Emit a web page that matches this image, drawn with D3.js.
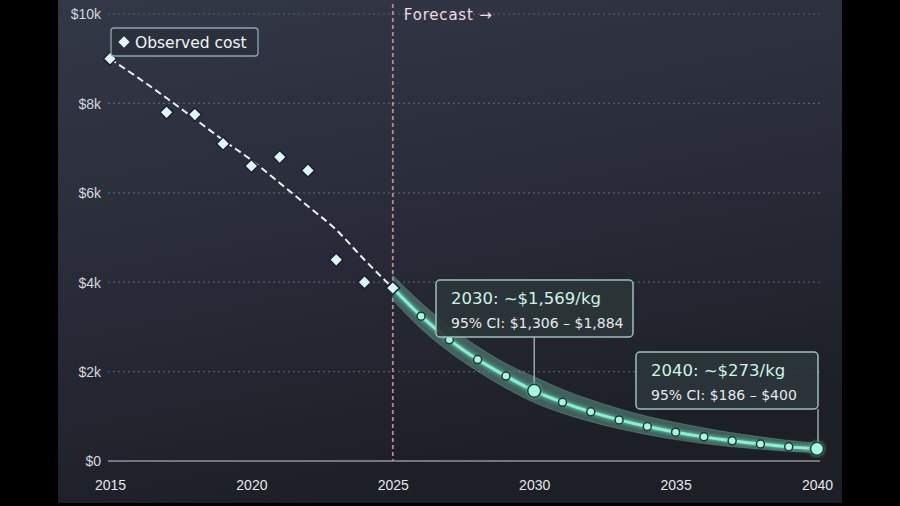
<!DOCTYPE html>
<html><head><meta charset="utf-8">
<script src="https://cdn.jsdelivr.net/npm/d3@7/dist/d3.min.js"></script>
<style>
html,body{margin:0;padding:0;background:#000;}
svg{display:block;font-family:"DejaVu Sans",sans-serif;}
</style></head>
<body>
<svg id="c" width="900" height="506"></svg>
<script>
// ---- data ----
const obsYears = [2015, 2017, 2018, 2019, 2020, 2021, 2022, 2023, 2024, 2025];
const obsCost  = [9000, 7800, 7750, 7100, 6600, 6800, 6500, 4500, 4000, 3870];
const trendYears = [2015,2016,2017,2018,2019,2020,2021,2022,2023,2024,2025];
const trendCost  = [9000,8570,8120,7650,7180,6730,6220,5700,5170,4500,3870];
const fcYears = [2025,2026,2027,2028,2029,2030,2031,2032,2033,2034,2035,2036,2037,2038,2039,2040];
const fcCost  = [3870,3240,2710,2270,1900,1569,1313,1099,920,770,645,540,452,378,316,273];
const fcLow   = [3600,2960,2440,2010,1630,1306,1070,880,720,590,480,390,320,265,220,186];
const fcHigh  = [4150,3540,3010,2560,2180,1884,1600,1370,1170,1000,860,740,630,540,460,400];
const xTicks = [2015, 2020, 2025, 2030, 2035, 2040];
const yTicks = [0, 2000, 4000, 6000, 8000, 10000];
const yTickLabels = ["$0", "$2k", "$4k", "$6k", "$8k", "$10k"];
const callouts = [
  {year: 2030, title: "2030: ~$1,569/kg", ci: "95% CI: $1,306 – $1,884"},
  {year: 2040, title: "2040: ~$273/kg", ci: "95% CI: $186 – $400"}
];

const svg = d3.select("#c");
const defs = svg.append("defs");
const bg = defs.append("linearGradient").attr("id","bg").attr("x1",0).attr("y1",0).attr("x2",0.3).attr("y2",1);
bg.append("stop").attr("offset","0%").attr("stop-color","#333847");
bg.append("stop").attr("offset","55%").attr("stop-color","#282b37");
bg.append("stop").attr("offset","100%").attr("stop-color","#1d1f27");
const glow = defs.append("filter").attr("id","glow").attr("x","-20%").attr("y","-20%").attr("width","140%").attr("height","140%");
glow.append("feGaussianBlur").attr("stdDeviation",2).attr("result","b");
const fm = glow.append("feMerge");
fm.append("feMergeNode").attr("in","b");
fm.append("feMergeNode").attr("in","SourceGraphic");

svg.append("rect").attr("x",58).attr("y",0).attr("width",784).attr("height",503).attr("fill","url(#bg)");

const x = d3.scaleLinear().domain([2015, 2040]).range([110, 817]);
const y = d3.scaleLinear().domain([0, 10000]).range([461, 14]);

// gridlines
svg.append("g").selectAll("line").data(yTicks.filter(d=>d>0)).join("line")
  .attr("x1",108).attr("x2",822).attr("y1",d=>y(d)).attr("y2",d=>y(d))
  .attr("stroke","#7d8494").attr("stroke-opacity",0.55).attr("stroke-width",1.2)
  .attr("stroke-dasharray","2,3");

// axis line
svg.append("line").attr("x1",108).attr("x2",820).attr("y1",y(0)).attr("y2",y(0))
  .attr("stroke","#8c919c").attr("stroke-width",1.5);

// y labels
const yAxis = d3.axisLeft(y).tickValues(yTicks).tickFormat((d,i)=>yTickLabels[i]).tickSize(0).tickPadding(0);
const gy = svg.append("g").attr("transform","translate(101,0)").call(yAxis);
gy.select(".domain").remove();
gy.selectAll("text").attr("fill","#d4d7de").attr("font-size",14).attr("dy","0.35em");

// x labels
const xAxis = d3.axisBottom(x).tickValues(xTicks).tickFormat(d3.format("d")).tickSize(0).tickPadding(0);
const gx = svg.append("g").attr("transform","translate(0,480)").call(xAxis);
gx.select(".domain").remove();
gx.selectAll("text").attr("fill","#e4e7ec").attr("font-size",14);

// forecast divider
svg.append("line").attr("x1",x(2025)).attr("x2",x(2025)).attr("y1",4).attr("y2",y(0))
  .attr("stroke","#b98a8e").attr("stroke-width",1.8).attr("stroke-dasharray","4,3");
svg.append("text").attr("x",x(2025)+11).attr("y",20).attr("fill","#f2dbe3")
  .attr("font-size",15).attr("letter-spacing",0.8).text("Forecast →");

// CI band
const band = d3.area().x((d,i)=>x(fcYears[i])).y0((d,i)=>y(fcLow[i])).y1((d,i)=>y(fcHigh[i])).curve(d3.curveMonotoneX);
svg.append("path").datum(fcYears).attr("d",band).attr("fill","#5f9e8e").attr("fill-opacity",0.5)
  .attr("stroke","#7fb5a8").attr("stroke-opacity",0.35).attr("stroke-width",1);

// trend dashed
const tline = d3.line().x((d,i)=>x(trendYears[i])).y((d,i)=>y(trendCost[i])).curve(d3.curveMonotoneX);
svg.append("path").datum(trendYears).attr("d",tline).attr("fill","none")
  .attr("stroke","#eef1f5").attr("stroke-width",2).attr("stroke-dasharray","7,4");

// forecast line
const fline = d3.line().x((d,i)=>x(fcYears[i])).y((d,i)=>y(fcCost[i])).curve(d3.curveMonotoneX);
svg.append("path").datum(fcYears).attr("d",fline).attr("fill","none")
  .attr("stroke","#82f2d0").attr("stroke-width",3).attr("filter","url(#glow)");

// callout leaders
const boxes = {
  2030: {x: 436, y: 280, w: 197, h: 57, lx: x(2030)},
  2040: {x: 636, y: 352, w: 182, h: 57, lx: 818}
};
callouts.forEach(c=>{
  const b = boxes[c.year];
  const vi = fcYears.indexOf(c.year);
  svg.append("line").attr("x1",b.lx).attr("x2",b.lx).attr("y1",b.y+b.h).attr("y2",y(fcCost[vi]))
    .attr("stroke","#a9bdb8").attr("stroke-width",1.3);
});

// forecast points
svg.append("g").selectAll("circle").data(fcYears.slice(1)).join("circle")
  .attr("cx",d=>x(d)).attr("cy",d=>y(fcCost[fcYears.indexOf(d)]))
  .attr("r",d=>(d===2030||d===2040)?6.5:4)
  .attr("fill",d=>(d===2030||d===2040)?"#a6f7e0":"#b2f3e0")
  .attr("stroke","#123f36").attr("stroke-width",1.5)
  .attr("filter",d=>(d===2030||d===2040)?"url(#glow)":null);

// observed diamonds
svg.append("g").selectAll("path").data(obsYears).join("path")
  .attr("transform",(d,i)=>`translate(${x(d)},${y(obsCost[i])}) rotate(45)`)
  .attr("d","M-4.7,-4.7H4.7V4.7H-4.7Z")
  .attr("fill","#dcf6fb").attr("stroke","#1b2130").attr("stroke-width",1.5);

// callout boxes
callouts.forEach(c=>{
  const b = boxes[c.year];
  const g = svg.append("g");
  g.append("rect").attr("x",b.x).attr("y",b.y).attr("width",b.w).attr("height",b.h).attr("rx",4)
    .attr("fill","#2b3538").attr("fill-opacity",0.92).attr("stroke","#9cc0b8").attr("stroke-width",1.5);
  g.append("text").attr("x",b.x+15).attr("y",b.y+24).attr("fill","#cdf5e6").attr("font-size",16.5).text(c.title);
  g.append("text").attr("x",b.x+15).attr("y",b.y+48).attr("fill","#e6e9ee").attr("font-size",14).text(c.ci);
});

// legend
const lg = svg.append("g");
lg.append("rect").attr("x",111).attr("y",28).attr("width",147).attr("height",28).attr("rx",3)
  .attr("fill","#2b303d").attr("stroke","#8fa3bb").attr("stroke-width",1.3);
lg.append("path").attr("transform","translate(124,42) rotate(45)").attr("d","M-4,-4H4V4H-4Z").attr("fill","#e6f8fc");
lg.append("text").attr("x",135).attr("y",48).attr("fill","#f2f4f7").attr("font-size",15.5).text("Observed cost");
</script>
</body></html>
